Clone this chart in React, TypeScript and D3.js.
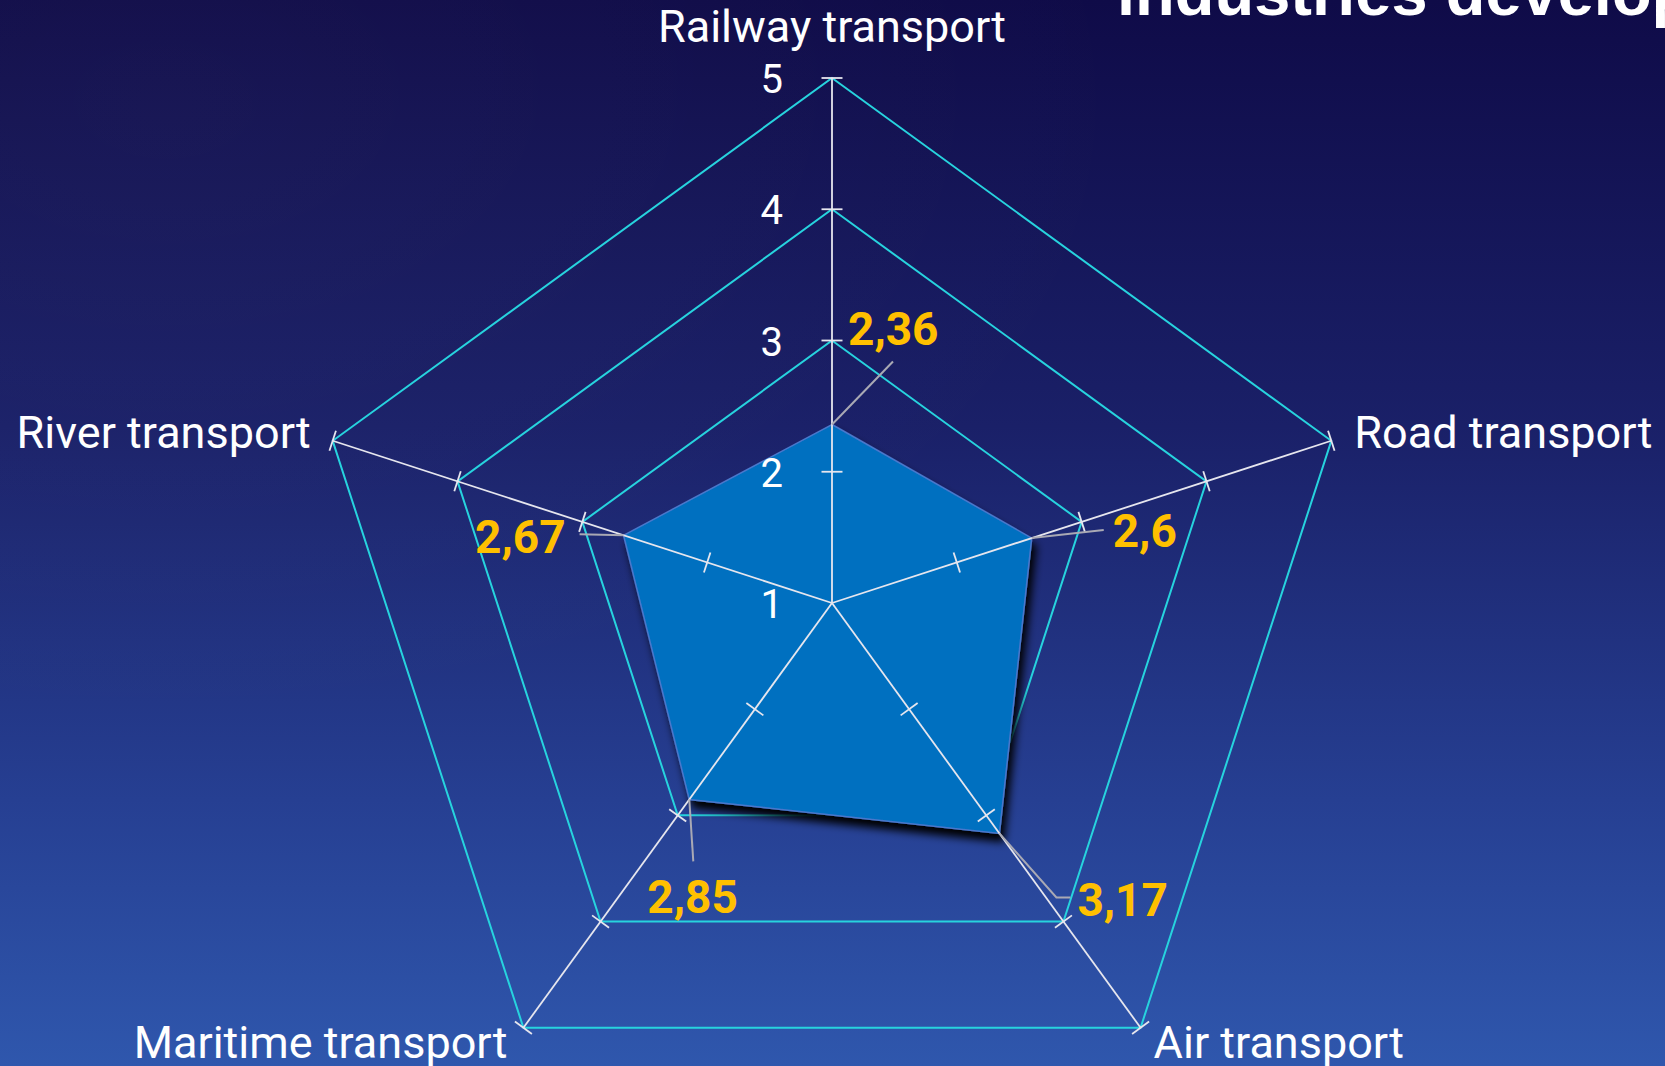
import React from "react"
import * as d3 from "d3"

const categories = ["Railway transport", "Road transport", "Air transport", "Maritime transport", "River transport"]
const values = [2.36, 2.6, 3.17, 2.85, 2.67]
const valueLabels = ["2,36", "2,6", "3,17", "2,85", "2,67"]
const tickValues = [1, 2, 3, 4, 5]
const gridLevels = [3, 4, 5]

const width = 1665
const height = 1066
const cx = 832
const cy = 603
const radius = 525

// label placement per category (relative to the axis end / data vertex)
const catOffsets = [
  { dx: 0, dy: -36, anchor: "middle" },
  { dx: 23, dy: 7, anchor: "start" },
  { dx: 13, dy: 30, anchor: "start" },
  { dx: -16, dy: 30, anchor: "end" },
  { dx: -22, dy: 7, anchor: "end" },
]
const leaderPaths = [
  [[61, -63]],
  [[72, -8]],
  [[57, 64], [71, 64]],
  [[4, 62]],
  [[-44, -1]],
]
const valueOffsets = [
  { dx: 16, dy: -80, anchor: "start" },
  { dx: 81, dy: 9, anchor: "start" },
  { dx: 78, dy: 83, anchor: "start" },
  { dx: -42, dy: 114, anchor: "start" },
  { dx: -58, dy: 18, anchor: "end" },
]

export default function App() {
  const r = d3.scaleLinear().domain([1, 5]).range([0, radius])
  const angle = (i: number) => (i * 2 * Math.PI) / categories.length
  const pt = (i: number, v: number) => d3.pointRadial(angle(i), r(v))

  const ring = d3
    .lineRadial<number>()
    .angle((_, i) => angle(i))
    .curve(d3.curveLinearClosed)

  const dataPath = ring.radius((d) => r(d))(values) as string
  const gridPath = (lvl: number) =>
    d3.lineRadial<string>().angle((_, i) => angle(i)).radius(r(lvl)).curve(d3.curveLinearClosed)(categories) as string

  const labelFont = "Roboto, 'Open Sans', sans-serif"

  return (
    <svg width={width} height={height} style={{ position: "absolute", left: 0, top: 0, display: "block" }}>
      <defs>
        <linearGradient id="bg" x1="0" y1="0" x2="0" y2="1">
          <stop offset="0" stopColor="#0f0b48" />
          <stop offset="0.4" stopColor="#1a2068" />
          <stop offset="0.75" stopColor="#263f92" />
          <stop offset="1" stopColor="#2f57ad" />
        </linearGradient>
        <radialGradient id="glow" cx="0.1" cy="0.1" r="0.6">
          <stop offset="0" stopColor="#ffffff" stopOpacity="0.03" />
          <stop offset="1" stopColor="#ffffff" stopOpacity="0" />
        </radialGradient>
        <filter id="shadow" x="-20%" y="-20%" width="150%" height="150%">
          <feDropShadow dx="4" dy="8" stdDeviation="4" floodColor="#000" floodOpacity="1" />
        </filter>
      </defs>
      <rect width={width} height={height} fill="url(#bg)" />
      <rect width={width} height={height} fill="url(#glow)" />

      <text x={1117} y={15} fill="#fff" fontFamily="'Liberation Sans', Arial, sans-serif" fontWeight="bold" fontSize={65}>
        industries development
      </text>

      <g transform={`translate(${cx},${cy})`}>
        {gridLevels.map((lvl) => (
          <path key={lvl} d={gridPath(lvl)} fill="none" stroke="#27d3de" strokeWidth={2} />
        ))}

        <path d={dataPath} fill="#0070c0" stroke="#4a78cc" strokeWidth={1.5} filter="url(#shadow)" />

        {categories.map((c, i) => {
          const [x2, y2] = pt(i, 5)
          const a = angle(i)
          const nx = Math.cos(a)
          const ny = Math.sin(a)
          return (
            <g key={c}>
              <line x1={0} y1={0} x2={x2} y2={y2} stroke="#e6e6ee" strokeWidth={1.8} />
              {tickValues.slice(1).map((t) => {
                const [tx, ty] = pt(i, t)
                return (
                  <line key={t} x1={tx - nx * 10.5} y1={ty - ny * 10.5} x2={tx + nx * 10.5} y2={ty + ny * 10.5}
                    stroke="#e6e6ee" strokeWidth={1.8} />
                )
              })}
            </g>
          )
        })}

        {tickValues.map((t) => (
          <text key={t} x={-49} y={-r(t) + 15} textAnchor="end" fill="#fff" fontFamily={labelFont} fontSize={40}>
            {t}
          </text>
        ))}

        {categories.map((c, i) => {
          const [x, y] = pt(i, 5)
          const o = catOffsets[i]
          return (
            <text key={c} x={x + o.dx} y={y + o.dy} textAnchor={o.anchor} fill="#fff" fontFamily={labelFont} fontSize={45}>
              {c}
            </text>
          )
        })}

        {values.map((v, i) => {
          const [x, y] = pt(i, v)
          const pts = [[x, y], ...leaderPaths[i].map(([dx, dy]) => [x + dx, y + dy])]
          const o = valueOffsets[i]
          return (
            <g key={i}>
              <path d={d3.line()(pts as [number, number][]) as string} fill="none" stroke="#a9a9b4" strokeWidth={2} />
              <text x={x + o.dx} y={y + o.dy} textAnchor={o.anchor} fill="#ffc000" fontFamily={labelFont}
                fontWeight="bold" fontSize={46}>
                {valueLabels[i]}
              </text>
            </g>
          )
        })}
      </g>
    </svg>
  )
}
